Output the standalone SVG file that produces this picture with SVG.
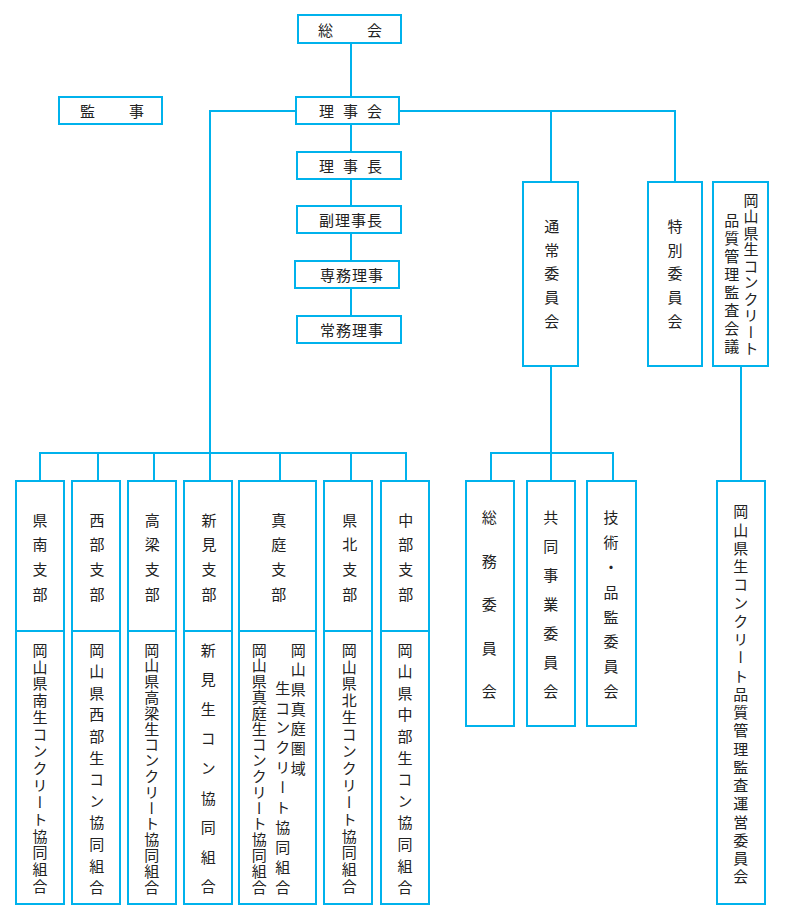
<svg xmlns="http://www.w3.org/2000/svg" width="790" height="914" viewBox="0 0 790 914">
<style>
.b{fill:#fff;stroke:#00B2EC;stroke-width:2}
.c{fill:none;stroke:#00B2EC;stroke-width:2}
text{font-family:"Noto Sans CJK JP","Noto Sans CJK SC",sans-serif;font-size:15px;fill:#222}
.h{dominant-baseline:central}
.v{writing-mode:vertical-rl}
</style>
<rect width="790" height="914" fill="#fff"/>
<g id="connectors" class="c">
<path d="M351,43V97"/>
<path d="M296,111H210V453"/>
<path d="M399,111H675V182M551,111V182"/>
<path d="M351,124V152M351,179V206M351,233V261M351,288V316"/>
<path d="M40,481V453H406V481M98,453V481M154,453V481M210,453V481M280,453V481M351,453V481"/>
<path d="M551,366V481M491,481V453H613V481"/>
<path d="M741,366V481"/>
</g>
<g id="n-soukai"><rect class="b" x="298" y="15" width="103" height="28"/><text class="h" x="318" y="29" letter-spacing="1.3">総　　会</text></g>
<g id="n-kanji"><rect class="b" x="59" y="97" width="103" height="27"/><text class="h" x="80" y="110.5" letter-spacing="1.3">監　　事</text></g>
<g id="n-rijikai"><rect class="b" x="296" y="97" width="103" height="27"/><text class="h" x="319" y="110.5" letter-spacing="9">理事会</text></g>
<g id="n-rijicho"><rect class="b" x="297" y="152" width="104" height="27"/><text class="h" x="319" y="165.5" letter-spacing="9">理事長</text></g>
<g id="n-fukurijicho"><rect class="b" x="297" y="206" width="104" height="27"/><text class="h" x="319" y="219.5" letter-spacing="1">副理事長</text></g>
<g id="n-senmu"><rect class="b" x="295" y="261" width="104" height="27"/><text class="h" x="320" y="274.5" letter-spacing="1">専務理事</text></g>
<g id="n-joumu"><rect class="b" x="297" y="316" width="104" height="27"/><text class="h" x="320" y="329.5" letter-spacing="1">常務理事</text></g>
<g id="n-tsujo"><rect class="b" x="523" y="182" width="55" height="184"/><text class="v" x="551.7" y="218.5" letter-spacing="8.9">通常委員会</text></g>
<g id="n-tokubetsu"><rect class="b" x="648" y="182" width="54" height="184"/><text class="v" x="675" y="218.5" letter-spacing="8.9">特別委員会</text></g>
<g id="n-kansakaigi"><rect class="b" x="713" y="182" width="55" height="184"/><text class="v" x="751" y="192.5" letter-spacing="1.5">岡山県生コンクリート</text><text class="v" x="731.7" y="212.5" letter-spacing="3.1">品質管理監査会議</text></g>
<g id="n-kennan"><rect class="b" x="16" y="481" width="48" height="423"/><path class="c" d="M16,631H64"/><text class="v" x="40" y="512.5" letter-spacing="9.7">県南支部</text><text class="v" x="40" y="642.5" letter-spacing="1.9">岡山県南生コンクリート協同組合</text></g>
<g id="n-seibu"><rect class="b" x="72" y="481" width="48" height="423"/><path class="c" d="M72,631H120"/><text class="v" x="97" y="512.5" letter-spacing="9.7">西部支部</text><text class="v" x="96.7" y="642.5" letter-spacing="6.6">岡山県西部生コン協同組合</text></g>
<g id="n-takahashi"><rect class="b" x="128" y="481" width="48" height="423"/><path class="c" d="M128,631H176"/><text class="v" x="152.3" y="512.5" letter-spacing="9.7">高梁支部</text><text class="v" x="151.7" y="642.5" letter-spacing="0.8">岡山県高梁生コンクリート協同組合</text></g>
<g id="n-niimi"><rect class="b" x="184" y="481" width="48" height="423"/><path class="c" d="M184,631H232"/><text class="v" x="209" y="512.5" letter-spacing="9.7">新見支部</text><text class="v" x="208.3" y="642.5" letter-spacing="14.6">新見生コン協同組合</text></g>
<g id="n-maniwa"><rect class="b" x="239" y="481" width="77" height="423"/><path class="c" d="M239,631H316"/><text class="v" x="278.7" y="512.5" letter-spacing="9.7">真庭支部</text><text class="v" x="298.3" y="642.5" letter-spacing="4.7">岡山県真庭圏域</text><text class="v" x="282.7" y="680.5" letter-spacing="4.9">生コンクリート協同組合</text><text class="v" x="259.3" y="642.5" letter-spacing="0.8">岡山県真庭生コンクリート協同組合</text></g>
<g id="n-kenhoku"><rect class="b" x="324" y="481" width="48" height="423"/><path class="c" d="M324,631H372"/><text class="v" x="349.7" y="512.5" letter-spacing="9.7">県北支部</text><text class="v" x="349.3" y="642.5" letter-spacing="1.9">岡山県北生コンクリート協同組合</text></g>
<g id="n-chubu"><rect class="b" x="381" y="481" width="48" height="423"/><path class="c" d="M381,631H429"/><text class="v" x="405.7" y="512.5" letter-spacing="9.7">中部支部</text><text class="v" x="405" y="642.5" letter-spacing="6.6">岡山県中部生コン協同組合</text></g>
<g id="n-soumu"><rect class="b" x="466" y="481" width="48" height="245"/><text class="v" x="489.3" y="509.8" letter-spacing="28.6">総務委員会</text></g>
<g id="n-kyodo"><rect class="b" x="527" y="481" width="48" height="245"/><text class="v" x="550.7" y="509.8" letter-spacing="14.07">共同事業委員会</text></g>
<g id="n-gijutsu"><rect class="b" x="587" y="481" width="49" height="245"/><text class="v" x="611" y="509.8" letter-spacing="9.9">技術・品監委員会</text></g>
<g id="n-unei"><rect class="b" x="717" y="481" width="48" height="423"/><text class="v" x="740.7" y="504.2" letter-spacing="3.25">岡山県生コンクリート品質管理監査運営委員会</text></g>
</svg>
